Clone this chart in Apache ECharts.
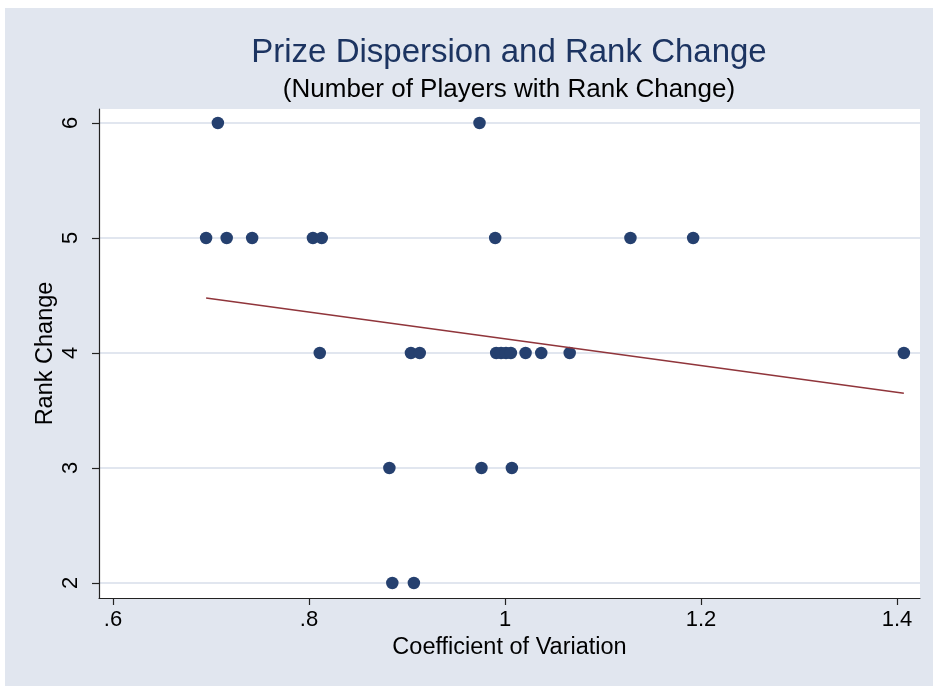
<!DOCTYPE html>
<html>
<head>
<meta charset="utf-8">
<script src="https://cdn.jsdelivr.net/npm/echarts@6/dist/echarts.min.js"></script>
<style>
html,body{margin:0;padding:0;background:#fff;}
#c{width:933px;height:686px;}
</style>
</head>
<body>
<div id="c"></div>
<script>
// Data
const cvRank6 = [0.707, 0.974];
const cvRank5 = [0.695, 0.716, 0.742, 0.804, 0.813, 0.990, 1.128, 1.192];
const cvRank4 = [0.811, 0.904, 0.913, 0.991, 0.996, 1.001, 1.006, 1.021, 1.037, 1.066, 1.407];
const cvRank3 = [0.882, 0.976, 1.007];
const cvRank2 = [0.885, 0.907];
const fitX = [0.695, 1.407];
const fitY = [4.478, 3.650];
const xTicks = [0.6, 0.8, 1.0, 1.2, 1.4];
const xTickLabels = ['.6', '.8', '1', '1.2', '1.4'];
const yTicks = [2, 3, 4, 5, 6];

const points = [];
[[6, cvRank6], [5, cvRank5], [4, cvRank4], [3, cvRank3], [2, cvRank2]].forEach(function (g) {
  g[1].forEach(function (x) { points.push([x, g[0]]); });
});
const fitLine = fitX.map(function (x, i) { return [x, fitY[i]]; });

const font = '"Liberation Sans", Arial, sans-serif';
const chart = echarts.init(document.getElementById('c'), null, {renderer: 'canvas'});
chart.setOption({
  backgroundColor: '#ffffff',
  animation: false,
  graphic: {
    elements: [{
      type: 'rect', z: -100, silent: true,
      shape: {x: 5, y: 8, width: 933, height: 686},
      style: {fill: '#e1e6ef'}
    }]
  },
  title: [{
    text: 'Prize Dispersion and Rank Change',
    left: 504, top: 31, textAlign: 'center',
    textStyle: {fontFamily: font, fontSize: 33, fontWeight: 'normal', color: '#1c3461'}
  }, {
    text: '(Number of Players with Rank Change)',
    left: 504, top: 72, textAlign: 'center',
    textStyle: {fontFamily: font, fontSize: 26, fontWeight: 'normal', color: '#000'}
  }],
  grid: {
    left: 99, right: 13, top: 109, bottom: 88,
    show: true, backgroundColor: '#ffffff', borderWidth: 0
  },
  xAxis: {
    type: 'value',
    min: 0.6 - 14 / 980, max: 0.6 + 807 / 980,
    name: 'Coefficient of Variation',
    nameLocation: 'middle', nameGap: 38, nameMoveOverlap: false,
    nameTextStyle: {fontFamily: font, fontSize: 23.5, color: '#000'},
    axisLine: {show: true, onZero: false, lineStyle: {color: '#222', width: 1.2}},
    axisTick: {show: true, length: 7, customValues: xTicks, lineStyle: {color: '#222', width: 1.2}},
    axisLabel: {
      customValues: xTicks, margin: 11,
      fontFamily: font, fontSize: 22, color: '#000',
      formatter: function (v) {
        const i = xTicks.findIndex(function (t) { return Math.abs(t - v) < 1e-6; });
        return i >= 0 ? xTickLabels[i] : '';
      }
    },
    splitLine: {show: false}
  },
  yAxis: {
    type: 'value',
    min: 2 - 15 / 115, max: 6 + 14 / 115,
    name: 'Rank Change',
    nameLocation: 'middle', nameGap: 41, nameRotate: 90, nameMoveOverlap: false,
    nameTextStyle: {fontFamily: font, fontSize: 23.5, color: '#000'},
    axisLine: {show: true, onZero: false, lineStyle: {color: '#222', width: 1.2}},
    axisTick: {show: true, length: 7, customValues: yTicks, lineStyle: {color: '#222', width: 1.2}},
    axisLabel: {
      customValues: yTicks, margin: 17, rotate: 90,
      fontFamily: font, fontSize: 22, color: '#000'
    },
    splitLine: {show: true, lineStyle: {color: '#e1e6ef', width: 2}}
  },
  series: [{
    type: 'scatter',
    data: points,
    symbol: 'circle',
    symbolSize: 12.5,
    itemStyle: {color: '#25406f', opacity: 1},
    z: 3
  }, {
    type: 'line',
    data: fitLine,
    symbol: 'none',
    lineStyle: {color: '#90353b', width: 1.6},
    z: 4
  }]
});
</script>
</body>
</html>
